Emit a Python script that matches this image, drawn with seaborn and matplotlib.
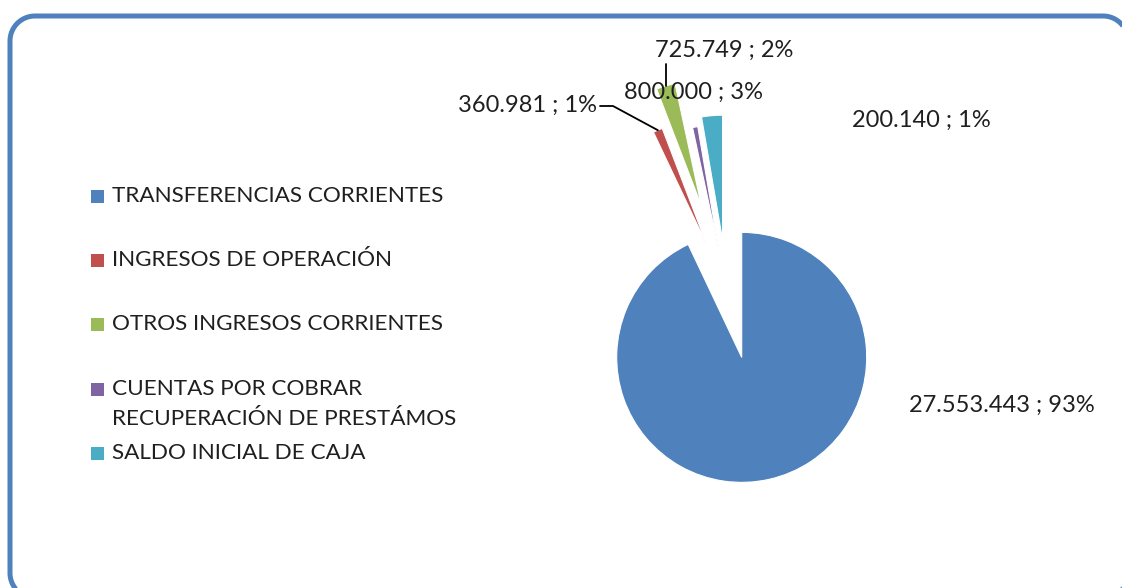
import matplotlib
matplotlib.use("Agg")
import matplotlib.pyplot as plt
from matplotlib.patches import Rectangle, Polygon
import numpy as np
import seaborn as sns

# ---- data ----
categories = ["TRANSFERENCIAS CORRIENTES", "INGRESOS DE OPERACIÓN",
              "OTROS INGRESOS CORRIENTES",
              "CUENTAS POR COBRAR\nRECUPERACIÓN DE PRESTÁMOS",
              "SALDO INICIAL DE CAJA"]
values = [27553443, 360981, 725749, 200140, 800000]
value_labels = ["27.553.443", "360.981", "725.749", "200.140", "800.000"]

# ---- style ----
sns.set_theme(style="white")
plt.rcParams["font.family"] = ["Lato", "DejaVu Sans"]
plt.rcParams["path.simplify"] = False
colors = ["#4F81BD", "#C0504D", "#9BBB59", "#8064A2", "#4BACC6"]

W, H = 1122, 588
fig = plt.figure(figsize=(W / 100, H / 100), dpi=100)
ax = fig.add_axes([0, 0, 1, 1])

def py(y):  # pixel-from-top -> data y
    return H - y

center = (727, py(292))
radius = 125
explode = [67, 51, 90, 43, 52]

wedges, _ = ax.pie(values, colors=colors, startangle=90, counterclock=False,
                   center=center, radius=radius, explode=explode,
                   wedgeprops=dict(linewidth=0.8, edgecolor="white"))
ax.set_xlim(0, W)
ax.set_ylim(0, H)
ax.set_aspect("equal")
ax.axis("off")

total = sum(values)
pcts = [f"{round(v / total * 100):.0f}%" for v in values]
texts = [f"{lab} ; {p}" for lab, p in zip(value_labels, pcts)]

label_pos = [(1002, 405), (528, 105), (724, 50), (921, 120), (694, 92)]
fs_lab = 17
for t, (x, y) in zip(texts, label_pos):
    ax.text(x, py(y), t, ha="center", va="center", fontsize=fs_lab, color="#1f1f1f")

def outer_mid(w):
    th = np.deg2rad((w.theta1 + w.theta2) / 2)
    cx, cy = w.center
    return cx + w.r * np.cos(th), cy + w.r * np.sin(th)

# leader lines
rx, ry = outer_mid(wedges[1])
ax.plot([600, 613, rx], [py(106), py(106), ry], color="black", lw=1.3)
gx, gy = outer_mid(wedges[2])
ax.plot([gx, gx], [py(64), gy], color="black", lw=1.3)

# legend (manual)
leg_rows = [196, 260, 324, 389, 453]
fs_leg = 16.2
for c, lab, y in zip(colors, categories, leg_rows):
    ax.add_patch(Rectangle((91, py(y) - 6.5), 13, 13, facecolor=c, edgecolor="none"))
    lines = lab.split("\n")
    for i, ln in enumerate(lines):
        ax.text(112, py(y + i * 30), ln, ha="left", va="center",
                fontsize=fs_leg, color="#1f1f1f")

# rounded border as a closed polygon (right and bottom run past the edge)
x0, x1, y0, y1, r = 10, 1128, 16, 598, 25
def arc(cx, cy, a0, a1):
    t = np.deg2rad(np.linspace(a0, a1, 40))
    return cx + r * np.cos(t), cy + r * np.sin(t)  # pixel coords, y down
segs = [arc(x1 - r, y0 + r, 270, 360),   # top-right
        arc(x1 - r, y1 - r, 0, 90),      # bottom-right
        arc(x0 + r, y1 - r, 90, 180),    # bottom-left
        arc(x0 + r, y0 + r, 180, 270)]   # top-left
bx = np.concatenate([s[0] for s in segs])
by = np.concatenate([s[1] for s in segs])
pts = np.column_stack([bx, [py(v) for v in by]])
ax.add_patch(Polygon(pts, closed=True, fill=False, edgecolor="#4F81BD",
                     lw=3.6, joinstyle="round"))

fig.savefig("out.png", dpi=100, facecolor="white")
